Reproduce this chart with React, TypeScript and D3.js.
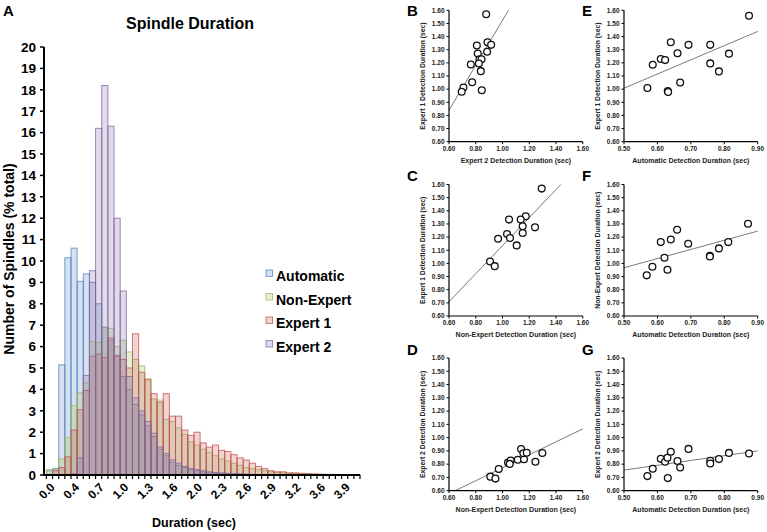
import React from 'react';
import * as d3 from 'd3';

// ---------- Histogram data (% of spindles per duration bin) ----------
const binTickLabels = ['0.0', '0.4', '0.7', '1.0', '1.3', '1.6', '2.0', '2.3', '2.6', '2.9', '3.2', '3.6', '3.9'];
const binCount = 51;

const automatic = [0.2, 0.3, 5.15, 10.15, 10.6, 9.05, 9.4, 9.0, 8.0, 6.9, 6.3, 5.6, 4.6, 4.0, 3.3, 2.8, 2.3, 1.8, 1.2, 0.9, 0.6, 0.45, 0.35, 0.25, 0.2, 0.15, 0.1, 0.08, 0.06, 0.05, 0.04, 0.03, 0.02, 0.02, 0.01, 0, 0, 0, 0, 0, 0, 0, 0, 0, 0, 0, 0, 0, 0, 0, 0];
const nonExpert = [0.25, 0.25, 0.75, 1.75, 3.25, 3.85, 4.3, 6.25, 6.2, 6.9, 6.85, 6.0, 6.3, 5.75, 5.4, 5.1, 4.5, 3.55, 3.5, 2.6, 2.5, 2.2, 1.9, 1.55, 1.4, 1.2, 1.05, 0.9, 0.75, 0.65, 0.55, 0.45, 0.35, 0.3, 0.25, 0.2, 0.15, 0.12, 0.1, 0.08, 0.06, 0.05, 0.04, 0.03, 0.02, 0.02, 0.01, 0.01, 0, 0, 0];
const expert1 = [0, 0.2, 0.35, 0.85, 2.1, 3.05, 3.95, 5.55, 5.65, 5.5, 6.4, 5.55, 5.4, 5.0, 6.6, 4.8, 4.45, 3.8, 3.4, 3.8, 2.75, 2.75, 2.1, 1.85, 2.0, 1.5, 1.3, 1.4, 1.15, 1.1, 0.95, 0.8, 0.7, 0.55, 0.4, 0.3, 0.2, 0.15, 0.15, 0.1, 0.1, 0.08, 0.06, 0.05, 0.04, 0.03, 0.03, 0.02, 0.02, 0.01, 0.01];
const expert2 = [0, 0, 0, 0, 0.05, 0.8, 4.65, 9.55, 16.2, 18.2, 16.3, 12.0, 8.6, 4.6, 3.6, 3.0, 2.5, 1.95, 1.3, 1.0, 0.7, 0.55, 0.4, 0.3, 0.25, 0.2, 0.15, 0.12, 0.1, 0.08, 0.06, 0.05, 0.04, 0.03, 0.02, 0.01, 0, 0, 0, 0, 0, 0, 0, 0, 0, 0, 0, 0, 0, 0, 0];

const seriesNames = ['Automatic', 'Non-Expert', 'Expert 1', 'Expert 2'];
const seriesValues = [automatic, nonExpert, expert1, expert2];
const seriesColors = ['#4f81bd', '#9bbb59', '#c0504d', '#8064a2'];

// ---------- Scatter panel data ----------
const bX = [0.878, 0.888, 0.915, 0.808, 0.815, 0.885, 0.828, 0.843, 0.823, 0.763, 0.838, 0.773, 0.708, 0.695, 0.845];
const bY = [1.57, 1.357, 1.337, 1.332, 1.271, 1.284, 1.228, 1.228, 1.195, 1.187, 1.137, 1.053, 1.013, 0.98, 0.992];

const cX = [1.293, 1.174, 1.049, 1.136, 1.151, 1.151, 1.243, 1.034, 1.056, 0.967, 1.106, 0.907, 0.942];
const cY = [1.569, 1.358, 1.333, 1.333, 1.282, 1.231, 1.274, 1.223, 1.193, 1.188, 1.137, 1.015, 0.979];

const dX = [0.909, 0.947, 0.972, 1.041, 1.061, 1.054, 1.114, 1.139, 1.161, 1.156, 1.181, 1.246, 1.298];
const dY = [0.706, 0.691, 0.764, 0.812, 0.827, 0.802, 0.833, 0.914, 0.837, 0.882, 0.886, 0.818, 0.884];

const eX = [0.57, 0.586, 0.61, 0.623, 0.631, 0.632, 0.64, 0.66, 0.668, 0.693, 0.758, 0.758, 0.784, 0.814, 0.874];
const eY = [1.009, 1.186, 1.229, 1.221, 0.986, 0.978, 1.357, 1.273, 1.05, 1.337, 1.337, 1.196, 1.135, 1.27, 1.559];

const fX = [0.871, 0.659, 0.64, 0.61, 0.692, 0.812, 0.784, 0.757, 0.757, 0.621, 0.585, 0.63, 0.568];
const fY = [1.301, 1.256, 1.182, 1.162, 1.149, 1.162, 1.114, 1.058, 1.053, 1.043, 0.975, 0.952, 0.909];

const gX = [0.57, 0.586, 0.61, 0.623, 0.63, 0.631, 0.64, 0.66, 0.668, 0.693, 0.758, 0.758, 0.784, 0.814, 0.874];
const gY = [0.71, 0.765, 0.84, 0.818, 0.848, 0.695, 0.893, 0.823, 0.775, 0.915, 0.825, 0.805, 0.838, 0.885, 0.88];

// trend lines: [slope, intercept]
const bFit = [1.71, -0.186];
const cFit = [1.066, 0.069];
const dFit = [0.488, 0.285];
const eFit = [1.08, 0.467];
const fFit = [0.6975, 0.618];
const gFit = [0.3625, 0.574];

const yTicksScatter = [0.6, 0.7, 0.8, 0.9, 1.0, 1.1, 1.2, 1.3, 1.4, 1.5, 1.6];
const xTicksLeft = [0.6, 0.8, 1.0, 1.2, 1.4, 1.6];
const xTicksRight = [0.5, 0.6, 0.7, 0.8, 0.9];

const FONT = '"Liberation Sans", Arial, Helvetica, sans-serif';

function Histogram() {
  const idx = d3.range(binCount);
  const x = d3.scaleBand<number>().domain(idx).range([46.4, 360]).padding(0);
  const y = d3.scaleLinear().domain([0, 20]).range([475, 47]);
  const yTicks = d3.range(0, 21);
  return (
    <g fontFamily={FONT} fontWeight="bold">
      <text x={3} y={16} fontSize={15}>A</text>
      <text x={190} y={29} fontSize={16} textAnchor="middle">Spindle Duration</text>
      {seriesValues.map((vals, si) => (
        <g key={si}>
          {vals.map((v, i) =>
            v > 0 ? (
              <rect key={i} x={x(i)} y={y(v)} width={x.bandwidth()} height={y(0) - y(v)}
                fill={seriesColors[si]} fillOpacity={0.24} stroke={seriesColors[si]} strokeOpacity={0.75} strokeWidth={1} />
            ) : null
          )}
        </g>
      ))}
      {/* y axis */}
      <line x1={44} x2={44} y1={y(20)} y2={y(0) + 1} stroke="#000" strokeWidth={2} />
      {yTicks.map((t) => (
        <g key={t}>
          <line x1={40} x2={44} y1={y(t)} y2={y(t)} stroke="#000" strokeWidth={1.5} />
          <text x={36} y={y(t)} dy="0.36em" fontSize={13.5} textAnchor="end">{t}</text>
        </g>
      ))}
      {/* x axis */}
      <line x1={43} x2={360} y1={y(0)} y2={y(0)} stroke="#000" strokeWidth={2} />
      {d3.range(binCount + 1).map((i) => {
        const px = 46.4 + i * x.bandwidth();
        return <line key={i} x1={px} x2={px} y1={y(0)} y2={y(0) + 4} stroke="#000" strokeWidth={1.2} />;
      })}
      {binTickLabels.map((lab, k) => {
        const cx = (x(k * 4) as number) + x.bandwidth() / 2;
        return (
          <text key={lab} transform={`translate(${cx + 6},${y(0) + 13}) rotate(-45)`} fontSize={12} textAnchor="end">{lab}</text>
        );
      })}
      <text x={194} y={527} fontSize={12.5} textAnchor="middle">Duration (sec)</text>
      <text transform="translate(14,259) rotate(-90)" fontSize={14} textAnchor="middle">Number of Spindles (% total)</text>
      {/* legend */}
      {seriesNames.map((n, i) => (
        <g key={n} transform={`translate(266,${270 + i * 23.5})`}>
          <rect x={0} y={0} width={6.5} height={6.5} fill={seriesColors[i]} fillOpacity={0.24} stroke={seriesColors[i]} strokeOpacity={0.75} strokeWidth={1} />
          <text x={10} y={11} fontSize={14}>{n}</text>
        </g>
      ))}
    </g>
  );
}

type PanelProps = {
  letter: string;
  letterY: number;
  xs: number[];
  ys: number[];
  fit: number[];
  xRange: [number, number];
  yRange: [number, number];
  xDomain: [number, number];
  xTicks: number[];
  xTitle: string;
  yTitle: string;
};

function Scatter(p: PanelProps) {
  const x = d3.scaleLinear().domain(p.xDomain).range(p.xRange);
  const y = d3.scaleLinear().domain([0.6, 1.6]).range([p.yRange[1], p.yRange[0]]);
  const [m, b] = p.fit;
  const clip = (xv: number) => {
    const yv = m * xv + b;
    if (yv < 0.6) return (0.6 - b) / m;
    if (yv > 1.6) return (1.6 - b) / m;
    return xv;
  };
  const x1 = clip(p.xDomain[0]);
  const x2 = clip(p.xDomain[1]);
  const line = d3.line<number>().x((d) => x(d)).y((d) => y(m * d + b));
  const ax = p.xRange[0];
  const bottom = p.yRange[1];
  const fmt = d3.format('.2f');
  return (
    <g fontFamily={FONT} fontWeight="bold">
      <text x={ax - 42} y={p.letterY} fontSize={15}>{p.letter}</text>
      <path d={line([x1, x2]) || ''} stroke="#7a7a7a" strokeWidth={1} fill="none" />
      <line x1={ax} x2={ax} y1={p.yRange[0]} y2={bottom} stroke="#000" strokeWidth={1.2} />
      <line x1={ax} x2={p.xRange[1]} y1={bottom} y2={bottom} stroke="#000" strokeWidth={1.2} />
      {yTicksScatter.map((t) => (
        <g key={t}>
          <line x1={ax - 2.5} x2={ax} y1={y(t)} y2={y(t)} stroke="#000" strokeWidth={1} />
          <text x={ax - 4.5} y={y(t)} dy="0.35em" fontSize={6.5} textAnchor="end" fill="#222">{fmt(t)}</text>
        </g>
      ))}
      {p.xTicks.map((t) => (
        <g key={t}>
          <line x1={x(t)} x2={x(t)} y1={bottom} y2={bottom + 2.5} stroke="#000" strokeWidth={1} />
          <text x={x(t)} y={bottom + 9} fontSize={6.5} textAnchor="middle" fill="#222">{fmt(t)}</text>
        </g>
      ))}
      <text x={(p.xRange[0] + p.xRange[1]) / 2} y={bottom + 21} fontSize={7} textAnchor="middle" fill="#222">{p.xTitle}</text>
      <text transform={`translate(${ax - 24},${(p.yRange[0] + bottom) / 2}) rotate(-90)`} fontSize={6.8} textAnchor="middle" fill="#222">{p.yTitle}</text>
      {p.xs.map((xv, i) => (
        <circle key={i} cx={x(xv)} cy={y(p.ys[i])} r={3.4} fill="#fff" stroke="#111" strokeWidth={1.3} />
      ))}
    </g>
  );
}

export default function App() {
  const L: [number, number] = [449, 582.75];
  const R: [number, number] = [624, 757.7];
  const row1: [number, number] = [10.3, 141.7];
  const row2: [number, number] = [184.5, 316];
  const row3: [number, number] = [358, 490.7];
  return (
    <svg width={767} height={532} style={{ position: 'absolute', left: 0, top: 0, background: '#fff' }}>
      <rect width={767} height={532} fill="#fff" />
      <Histogram />
      <Scatter letter="B" letterY={16} xs={bX} ys={bY} fit={bFit} xRange={L} yRange={row1} xDomain={[0.6, 1.6]} xTicks={xTicksLeft}
        xTitle="Expert 2 Detection Duration (sec)" yTitle="Expert 1 Detection Duration (sec)" />
      <Scatter letter="C" letterY={181} xs={cX} ys={cY} fit={cFit} xRange={L} yRange={row2} xDomain={[0.6, 1.6]} xTicks={xTicksLeft}
        xTitle="Non-Expert Detection Duration (sec)" yTitle="Expert 1 Detection Duration (sec)" />
      <Scatter letter="D" letterY={355} xs={dX} ys={dY} fit={dFit} xRange={L} yRange={row3} xDomain={[0.6, 1.6]} xTicks={xTicksLeft}
        xTitle="Non-Expert Detection Duration (sec)" yTitle="Expert 2 Detection Duration (sec)" />
      <Scatter letter="E" letterY={16} xs={eX} ys={eY} fit={eFit} xRange={R} yRange={row1} xDomain={[0.5, 0.9]} xTicks={xTicksRight}
        xTitle="Automatic Detection Duration (sec)" yTitle="Expert 1 Detection Duration (sec)" />
      <Scatter letter="F" letterY={181} xs={fX} ys={fY} fit={fFit} xRange={R} yRange={row2} xDomain={[0.5, 0.9]} xTicks={xTicksRight}
        xTitle="Automatic Detection Duration (sec)" yTitle="Non-Expert Detection Duration (sec)" />
      <Scatter letter="G" letterY={355} xs={gX} ys={gY} fit={gFit} xRange={R} yRange={row3} xDomain={[0.5, 0.9]} xTicks={xTicksRight}
        xTitle="Automatic Detection Duration (sec)" yTitle="Expert 2 Detection Duration (sec)" />
    </svg>
  );
}
